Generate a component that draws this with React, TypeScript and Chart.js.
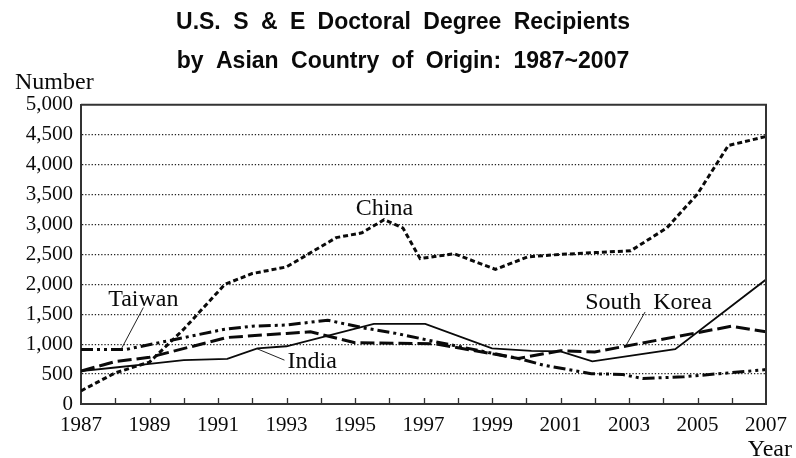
import React, { useEffect, useRef } from 'react';
import { Chart, registerables } from 'chart.js';

Chart.register(...registerables);

// ---- Data ----
const chinaYears = [1987, 1988, 1989, 1990, 1991.2, 1992, 1993, 1994.45, 1995.2, 1995.85, 1996.4, 1996.9, 1997.9, 1999.1, 2000.05, 2001, 2002, 2003.05, 2004.1, 2005, 2005.9, 2007];
const chinaValues = [220, 520, 700, 1250, 2000, 2180, 2290, 2780, 2860, 3080, 2940, 2430, 2510, 2250, 2460, 2500, 2530, 2560, 2940, 3510, 4320, 4470];

const indiaYears = [1987, 1988, 1989, 1990, 1991.27, 1992.15, 1993, 1995.55, 1997.05, 1999, 2000.15, 2001, 2001.93, 2004.35, 2007];
const indiaValues = [550, 610, 670, 733, 755, 930, 965, 1338, 1338, 928, 888, 880, 712, 915, 2080];

const koreaYears = [1987, 1988, 1989, 1991.26, 1993, 1993.7, 1995, 1997.36, 1999.77, 2001, 2002, 2006.0, 2007];
const koreaValues = [550, 710, 780, 1111, 1180, 1206, 1025, 1005, 761, 890, 870, 1300, 1206];

const taiwanYears = [1987, 1988.3, 1991.2, 1992, 1993, 1994.2, 1995.25, 1996.2, 1997.36, 1998.8, 1999.77, 2000.5, 2001.9, 2002.8, 2003.4, 2004.6, 2007];
const taiwanValues = [910, 910, 1250, 1300, 1320, 1400, 1272, 1180, 1040, 872, 761, 650, 505, 495, 425, 455, 575];

const xTickYears = [1987, 1989, 1991, 1993, 1995, 1997, 1999, 2001, 2003, 2005, 2007];
const xTickLabels = ['1987', '1989', '1991', '1993', '1995', '1997', '1999', '2001', '2003', '2005', '2007'];
const minorTickYears = [1988, 1989, 1990, 1991, 1992, 1993, 1994, 1995, 1996, 1997, 1998, 1999, 2000, 2001, 2002, 2003, 2004, 2005, 2006];

const titleLines = ['U.S. S & E Doctoral Degree Recipients', 'by Asian Country of Origin: 1987~2007'];
const yAxisTitle = 'Number';
const xAxisTitle = 'Year';

// Label annotations in data space
const seriesLabels = [
  { text: 'China', x: 1995.86, y: 3267, leader: null as null | number[][] },
  { text: 'Taiwan', x: 1988.82, y: 1750, leader: [[1988.82, 1612], [1988.17, 912]] },
  { text: 'India', x: 1993.75, y: 700, leader: [[1992.94, 733], [1992.12, 928]] },
  { text: 'South Korea', x: 2003.57, y: 1700, leader: [[2003.47, 1538], [2002.89, 955]] },
];

const toPoints = (xs: number[], ys: number[]) => xs.map((x, i) => ({ x, y: ys[i] }));

const INK = '#0a0a0a';
const FRAME = '#333333';
const SERIF = '"Liberation Serif", "DejaVu Serif", serif';
const SANS = '"Liberation Sans", Arial, sans-serif';

const decorPlugin = {
  id: 'decor',
  beforeDraw(chart: any) {
    (chart.ctx as any).wordSpacing = '6px';
  },
  afterDraw(chart: any) {
    const { ctx, chartArea, scales } = chart;
    const xs = scales.x;
    const ys = scales.y;
    ctx.save();
    // frame top & right
    ctx.strokeStyle = FRAME;
    ctx.lineWidth = 2;
    ctx.setLineDash([]);
    ctx.beginPath();
    ctx.moveTo(chartArea.left, chartArea.top);
    ctx.lineTo(chartArea.right, chartArea.top);
    ctx.lineTo(chartArea.right, chartArea.bottom);
    ctx.stroke();
    // inward year ticks
    ctx.lineWidth = 1.3;
    ctx.beginPath();
    minorTickYears.forEach((yr) => {
      const px = Math.round(xs.getPixelForValue(yr)) + 0.5;
      ctx.moveTo(px, chartArea.bottom);
      ctx.lineTo(px, chartArea.bottom - 6);
    });
    ctx.stroke();
    // series labels
    ctx.fillStyle = INK;
    ctx.font = '24px ' + SERIF;
    ctx.textAlign = 'center';
    ctx.textBaseline = 'middle';
    (ctx as any).wordSpacing = '6px';
    seriesLabels.forEach((l) => {
      ctx.fillText(l.text, xs.getPixelForValue(l.x), ys.getPixelForValue(l.y));
      if (l.leader) {
        ctx.strokeStyle = INK;
        ctx.lineWidth = 0.9;
        ctx.beginPath();
        ctx.moveTo(xs.getPixelForValue(l.leader[0][0]), ys.getPixelForValue(l.leader[0][1]));
        ctx.lineTo(xs.getPixelForValue(l.leader[1][0]), ys.getPixelForValue(l.leader[1][1]));
        ctx.stroke();
      }
    });
    (ctx as any).wordSpacing = '0px';
    // axis titles
    ctx.textBaseline = 'alphabetic';
    ctx.textAlign = 'left';
    ctx.fillText(yAxisTitle, 15, 89);
    ctx.textAlign = 'right';
    ctx.fillText(xAxisTitle, 792, 456);
    ctx.restore();
  },
};

export default function App() {
  const ref = useRef<HTMLCanvasElement | null>(null);

  useEffect(() => {
    if (!ref.current) return;
    const common = { fill: false, pointRadius: 0, pointHoverRadius: 0, tension: 0, borderColor: INK, backgroundColor: INK };
    const chart = new Chart(ref.current, {
      type: 'line',
      data: {
        datasets: [
          { ...common, label: 'China', data: toPoints(chinaYears, chinaValues), borderWidth: 3, borderDash: [5, 3] },
          { ...common, label: 'South Korea', data: toPoints(koreaYears, koreaValues), borderWidth: 3, borderDash: [14, 5] },
          { ...common, label: 'Taiwan', data: toPoints(taiwanYears, taiwanValues), borderWidth: 3, borderDash: [12, 4, 3, 4, 3, 4] },
          { ...common, label: 'India', data: toPoints(indiaYears, indiaValues), borderWidth: 1.8 },
        ],
      },
      options: {
        responsive: false,
        animation: false,
        events: [],
        layout: { padding: { top: 0, left: 16, right: 6, bottom: 0 } },
        plugins: {
          legend: { display: false },
          tooltip: { enabled: false },
          title: {
            display: true,
            text: titleLines,
            color: INK,
            font: { family: SANS, size: 23, weight: 'bold', lineHeight: 1.68 },
            padding: { top: 3.5, bottom: 24 },
          },
        },
        scales: {
          x: {
            type: 'linear',
            min: 1987,
            max: 2007,
            afterBuildTicks: (scale: any) => {
              scale.ticks = xTickYears.map((v) => ({ value: v }));
            },
            afterFit: (scale: any) => {
              scale.height = 54;
            },
            grid: { display: false, drawTicks: false },
            border: { display: true, color: FRAME, width: 2 },
            ticks: {
              autoSkip: false,
              maxRotation: 0,
              padding: 9,
              color: INK,
              font: { family: SERIF, size: 21 },
              callback: (v: any) => {
                const i = xTickYears.indexOf(Number(v));
                return i >= 0 ? xTickLabels[i] : '';
              },
            },
          },
          y: {
            type: 'linear',
            min: 0,
            max: 5000,
            afterFit: (scale: any) => {
              scale.width = 65;
            },
            grid: {
              drawTicks: false,
              lineWidth: 1.3,
              color: (c: any) => (c.tick && (c.tick.value === 0 || c.tick.value === 5000) ? 'rgba(0,0,0,0)' : '#222222'),
            },
            border: { display: true, color: FRAME, width: 2, dash: [1.3, 1.9] },
            ticks: {
              stepSize: 500,
              padding: 8,
              color: INK,
              font: { family: SERIF, size: 21 },
              callback: (v: any) => Number(v).toLocaleString('en-US'),
            },
          },
          yRightSpace: {
            type: 'linear',
            position: 'right',
            display: true,
            min: 0,
            max: 5000,
            afterFit: (scale: any) => {
              scale.width = 16;
            },
            grid: { display: false, drawTicks: false },
            border: { display: false },
            ticks: { display: false },
          },
        },
      },
      plugins: [decorPlugin],
    });
    return () => chart.destroy();
  }, []);

  return (
    <div style={{ position: 'fixed', left: 0, top: 0, width: 796, height: 458, background: '#fff' }}>
      <canvas ref={ref} width={796} height={458} />
    </div>
  );
}
